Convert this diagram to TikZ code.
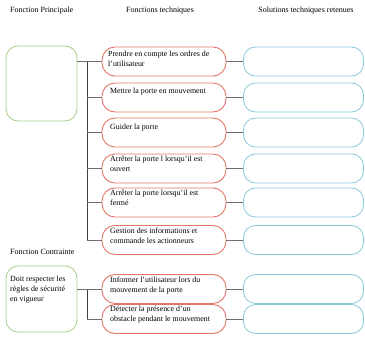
\documentclass[tikz,border=0pt]{standalone}
\usepackage{fontspec}
\setmainfont{Liberation Serif}
\definecolor{gfc}{RGB}{165,205,135}
\definecolor{rfc}{RGB}{226,118,102}
\definecolor{bfc}{RGB}{140,200,218}
\definecolor{lnc}{RGB}{110,110,110}
\begin{document}
\begin{tikzpicture}[x=1pt,y=-1pt,
  gbox/.style={draw=gfc,line width=0.8pt,rounded corners=12pt,minimum width=71pt,inner sep=0pt},
  rbox/.style={draw=rfc,line width=0.9pt,rounded corners=13pt,minimum width=124pt,minimum height=29pt,inner sep=0pt},
  bbox/.style={draw=bfc,line width=0.8pt,rounded corners=12pt,minimum width=120pt,minimum height=29pt,inner sep=0pt},
  txt/.style={font=\fontsize{7.9}{9.8}\selectfont,align=left,inner sep=0pt,anchor=north west},
  head/.style={font=\fontsize{8}{9}\selectfont,inner sep=0pt},
  link/.style={draw=lnc,line width=0.7pt},
  trunk/.style={draw=black!75,line width=0.7pt}]
\useasboundingbox (0,0) rectangle (365,343);
% headers
\node[head,anchor=west] (h1) at (10,11) {Fonction Principale};
\node[head] (h2) at (160,11) {Fonctions techniques};
\node[head] (h3) at (306,11) {Solutions techniques retenues};
\node[head,anchor=west] (h4) at (10,252) {Fonction Contrainte};
% green boxes
\node[gbox,minimum height=75pt] (g1) at (41.5,83.5) {};
\node[gbox,minimum height=66pt] (g2) at (41.5,299) {};
\node[txt] (tg2) at (10,276) {Doit respecter les\\règles de sécurité\\en vigueur};
% orange boxes
\node[rbox] (f1) at (164,61.5) {};
\node[rbox] (f2) at (164,97.5) {};
\node[rbox] (f3) at (164,132.5) {};
\node[rbox] (f4) at (164,168.5) {};
\node[rbox] (f5) at (164,202.5) {};
\node[rbox] (f6) at (164,240) {};
\node[rbox] (f7) at (164,289) {};
\node[rbox] (f8) at (164,319) {};
% texts
\node[txt] (t1) at (108,51) {Prendre en compte les ordres de\\l'utilisateur};
\node[txt] (t2) at (110,88) {Mettre la porte en mouvement};
\node[txt] (t3) at (110,124) {Guider la porte};
\node[txt] (t4) at (110,156) {Arrêter la porte l lorsqu'il est\\ouvert};
\node[txt] (t5) at (110,190) {Arrêter la porte lorsqu'il est\\fermé};
\node[txt] (t6) at (110,228) {Gestion des informations et\\commande les actionneurs};
\node[txt] (t7) at (110,277) {Informer l'utilisateur  lors du\\mouvement de la porte};
\node[txt] (t8) at (110,306) {Détecter la présence d'un\\obstacle pendant le mouvement};
% blue boxes
\node[bbox] (s1) at (303.5,61.5) {};
\node[bbox] (s2) at (303.5,97.5) {};
\node[bbox] (s3) at (303.5,132.5) {};
\node[bbox] (s4) at (303.5,168.5) {};
\node[bbox] (s5) at (303.5,202.5) {};
\node[bbox] (s6) at (303.5,240) {};
\node[bbox] (s7) at (303.5,289) {};
\node[bbox] (s8) at (303.5,319) {};
% trunks
\coordinate (k1) at (87,61.5);
\coordinate (k2) at (87,240);
\coordinate (k3) at (87,289);
\coordinate (k4) at (87,319);
\draw[trunk] (k1) -- (k2);
\draw[trunk] (k3) -- (k4);
\draw[link] (g1.east |- f1.west) -- (f1.west);
\draw[link] (g2.east |- f7.west) -- (f7.west);
\foreach \i in {2,...,6} {\draw[link] (k1 |- f\i.west) -- (f\i.west);}
\draw[link] (k4) -- (f8.west);
\foreach \i in {1,...,8} {\draw[link] (f\i.east) -- (s\i.west);}
\end{tikzpicture}
\end{document}
